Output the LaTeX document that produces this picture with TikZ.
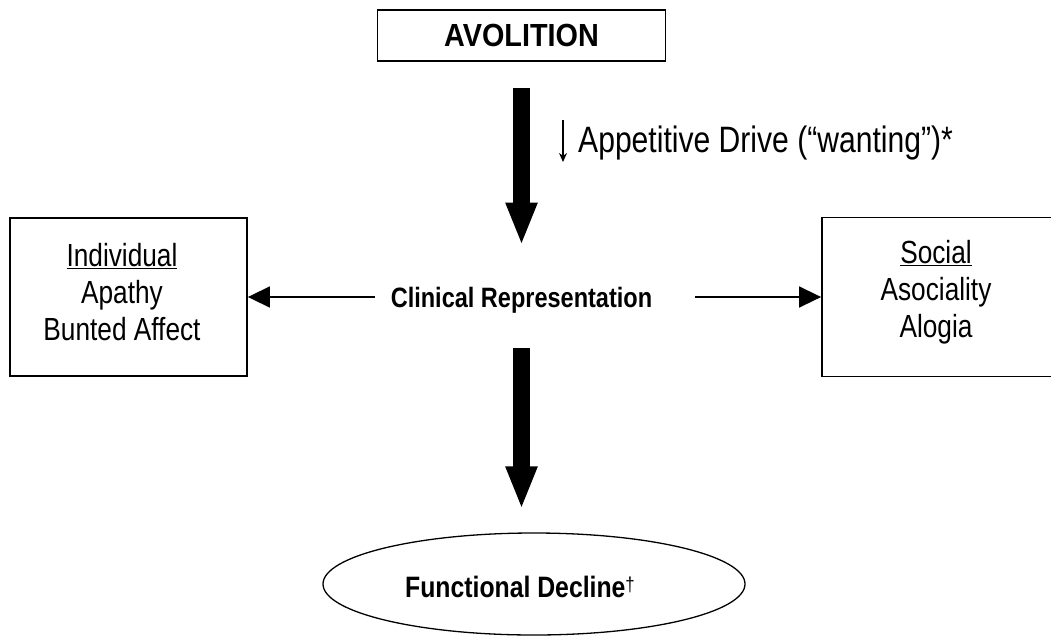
\documentclass[tikz,border=0pt]{standalone}
\usepackage{fontspec}
\setmainfont{Liberation Sans}
\newfontfamily\nreg[FakeStretch=0.82]{Liberation Sans}
\newfontfamily\nbold[FakeStretch=0.84]{Liberation Sans}
\newfontfamily\navo[FakeStretch=0.9]{Liberation Sans}
\usetikzlibrary{arrows.meta,shapes.geometric,calc}
\begin{document}
\begin{tikzpicture}[x=1pt,y=-1pt,
  box/.style={draw, line width=1.8pt, inner sep=0pt},
  big/.style={line width=17pt, -{Triangle[length=43pt 0 0, width=29pt 0 0]}},
  side/.style={line width=1.6pt, -{Triangle[length=22pt 0 0, width=21pt 0 0]}},
  regtext/.style={inner sep=0pt, align=center, font=\nreg\fontsize{32}{37}\selectfont},
  boldtext/.style={inner sep=0pt, font=\nbold\bfseries\fontsize{28}{32}\selectfont}
]
\useasboundingbox (0,0) rectangle (1051,637);

% top box
\node[box, minimum width=288pt, minimum height=51pt, font=\navo\bfseries\fontsize{32}{36}\selectfont] (avo) at (521.5,35.5) {AVOLITION};

% appetitive drive label
\node[inner sep=0pt, anchor=base west, font=\nreg\fontsize{36.7}{40}\selectfont] (drive) at (578,152) {Appetitive Drive (“wanting”)*};
\draw[line width=1.3pt, -{Stealth[length=9pt 0 0, width=8pt 0 0]}] ($(drive.base west)+(-15,-32)$) -- +(0,42);

% clinical representation
\node[boldtext, anchor=base] (clin) at (521.5,307) {Clinical Representation};

% side boxes
\node[box, minimum width=237pt, minimum height=158pt] (indiv) at (128.5,297) {};
\node[regtext] (indivtext) at (122,292.5) {\underline{Individual}\\Apathy\\Bunted Affect};

\node[box, minimum width=240pt, minimum height=159pt] (social) at (942,297) {};
\node[regtext] (socialtext) at (936,292.5) {\underline{Social}\\Asociality\\Alogia};

% ellipse
\node[draw, ellipse, line width=1.3pt, minimum width=422pt, minimum height=102pt, inner sep=0pt] (func) at (534,584) {};
\node[inner sep=0pt, anchor=base, font=\nbold\bfseries\fontsize{29.5}{32}\selectfont] (functext) at (520,597) {Functional Decline\raisebox{6pt}{\mdseries\fontsize{20}{20}\selectfont †}};

% connectors
\draw[big, shorten <=26pt, shorten >=41pt] (avo.south) -- (clin.north);
\draw[big, shorten <=35pt, shorten >=23pt] (clin.south) -- (clin.south |- func.north);
\draw[side, shorten <=16pt] (clin.west |- indiv.east) -- (indiv.east);
\draw[side, shorten <=43pt] (clin.east |- social.west) -- (social.west);
\end{tikzpicture}
\end{document}
